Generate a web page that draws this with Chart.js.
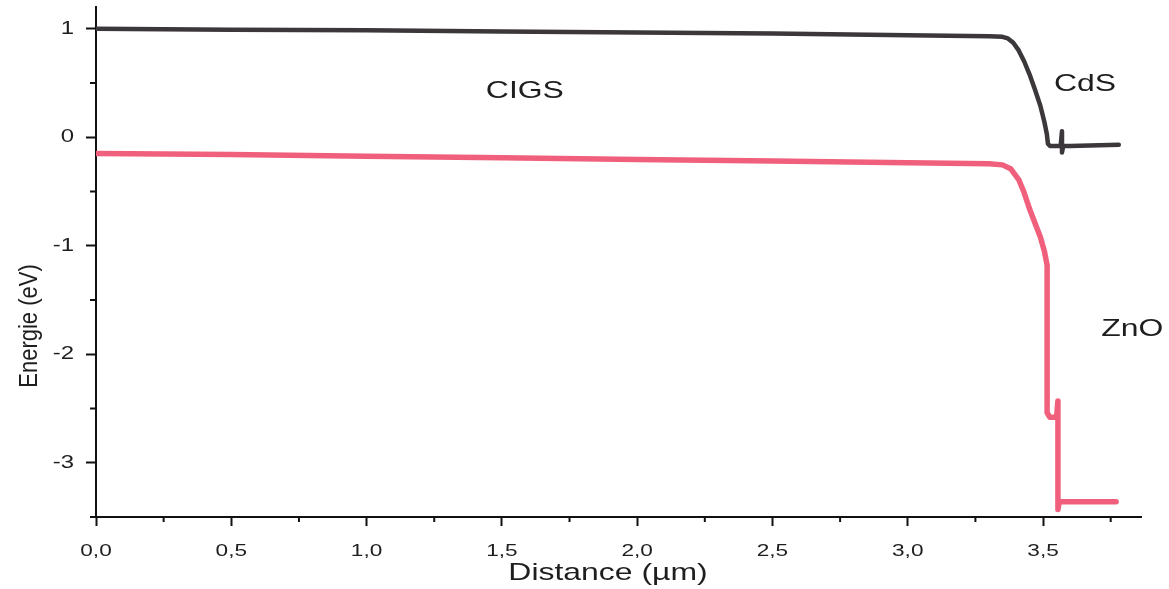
<!DOCTYPE html>
<html>
<head>
<meta charset="utf-8">
<script src="https://cdn.jsdelivr.net/npm/chart.js@4.4.1/dist/chart.umd.min.js"></script>
<style>
  body { margin: 0; background: #fff; }
  #wrap { width: 1169px; height: 589px; }
</style>
</head>
<body>
<div id="wrap"><canvas id="bandChart" width="1169" height="589"></canvas></div>
<script>
// conduction band (black curve)
const cbX = [0, 0.5, 1.0, 1.5, 2.0, 2.5, 3.0, 3.3, 3.35, 3.37, 3.39, 3.41, 3.43, 3.45, 3.47, 3.49, 3.505, 3.514, 3.518, 3.525, 3.565, 3.57, 3.57, 3.575, 3.6, 3.78]
const cbY = [1.0, 0.99, 0.985, 0.975, 0.965, 0.955, 0.94, 0.93, 0.925, 0.91, 0.87, 0.8, 0.7, 0.58, 0.44, 0.29, 0.14, 0.03, -0.06, -0.08, -0.08, 0.055, -0.14, -0.08, -0.08, -0.07]

// valence band (red curve)
const vbX = [0, 0.5, 1.0, 1.5, 2.0, 2.5, 3.0, 3.3, 3.35, 3.38, 3.41, 3.43, 3.45, 3.47, 3.49, 3.505, 3.515, 3.515, 3.525, 3.55, 3.555, 3.555, 3.56, 3.6, 3.77]
const vbY = [-0.15, -0.16, -0.175, -0.19, -0.205, -0.22, -0.235, -0.245, -0.255, -0.29, -0.39, -0.51, -0.66, -0.79, -0.92, -1.05, -1.18, -2.54, -2.58, -2.58, -2.43, -3.43, -3.36, -3.36, -3.36]

const xMinor = [0.25, 0.75, 1.25, 1.75, 2.25, 2.75, 3.25, 3.75]
const yMinor = [-3.5, -2.5, -1.5, -0.5, 0.5]

const regionNames = ['CIGS', 'CdS', 'ZnO']
const regionX = [1.585, 3.655, 3.83]
const regionY = [0.42, 0.49, -1.77]

const toPoints = (xs, ys) => xs.map((v, i) => ({x: v, y: ys[i]}))
const FONT = "'Liberation Sans', Arial, sans-serif"
const STRETCH = 1.33   // the scanned text is wider than normal Arial

function wideText(ctx, text, x, y, size, align) {
    ctx.save()
    ctx.font = size + 'px ' + FONT
    ctx.textAlign = align
    ctx.textBaseline = 'middle'
    ctx.translate(x, y)
    ctx.scale(STRETCH, 1)
    ctx.fillText(text, 0, 0)
    ctx.restore()
}

const extras = {
    id: 'extras',
    afterDraw(chart) {
        const ctx = chart.ctx
        const x = chart.scales.x
        const y = chart.scales.y
        const area = chart.chartArea
        ctx.save()
        ctx.strokeStyle = '#111'
        ctx.lineWidth = 2
        ctx.beginPath()
        xMinor.forEach(v => {
            const px = x.getPixelForValue(v)
            ctx.moveTo(px, area.bottom)
            ctx.lineTo(px, area.bottom + 5)
        })
        yMinor.forEach(v => {
            const py = y.getPixelForValue(v)
            ctx.moveTo(area.left, py)
            ctx.lineTo(area.left - 6, py)
        })
        ctx.stroke()

        ctx.fillStyle = '#1e1e1e'
        // tick labels
        x.ticks.forEach(t => {
            wideText(ctx, t.value.toFixed(1).replace('.', ','), x.getPixelForValue(t.value), area.bottom + 34, 17, 'center')
        })
        y.ticks.forEach(t => {
            wideText(ctx, String(t.value), area.left - 22, y.getPixelForValue(t.value), 18, 'right')
        })

        // layer names
        regionNames.forEach((t, i) => {
            wideText(ctx, t, x.getPixelForValue(regionX[i]), y.getPixelForValue(regionY[i]), 24, 'center')
        })

        // axis titles
        wideText(ctx, 'Distance (µm)', 608, 573, 24, 'center')
        ctx.font = '22px ' + FONT
        ctx.textAlign = 'center'
        ctx.textBaseline = 'middle'
        ctx.translate(30, 326)
        ctx.rotate(-Math.PI / 2)
        ctx.scale(1, 1.2)
        ctx.fillText('Energie (eV)', 0, 0)
        ctx.restore()
    }
}

var ctx_band = document.getElementById('bandChart').getContext('2d')
var bandChart = new Chart(ctx_band, {
    type: 'line',
    data: {
        datasets: [{
            label: 'Ec',
            data: toPoints(cbX, cbY),
            borderColor: '#3b373b',
            borderWidth: 4.5,
            pointRadius: 0,
            tension: 0,
            borderCapStyle: 'round',
            borderJoinStyle: 'round'
        }, {
            label: 'Ev',
            data: toPoints(vbX, vbY),
            borderColor: '#f0607c',
            borderWidth: 5.5,
            pointRadius: 0,
            tension: 0,
            borderCapStyle: 'round',
            borderJoinStyle: 'round'
        }]
    },
    options: {
        responsive: false,
        animation: false,
        layout: { padding: { top: 7, right: 28, left: 0, bottom: 0 } },
        plugins: {
            legend: { display: false },
            tooltip: { enabled: false }
        },
        scales: {
            x: {
                type: 'linear',
                min: 0,
                max: 3.862,
                afterFit: s => { s.height = 72; s.paddingLeft = 0; s.paddingRight = 0 },
                border: { color: '#111', width: 2 },
                grid: { drawOnChartArea: false, tickLength: 9, tickWidth: 2, tickColor: '#111' },
                ticks: { stepSize: 0.5, includeBounds: false, display: false }
            },
            y: {
                min: -3.5,
                max: 1.2,
                afterFit: s => { s.width = 96; s.paddingTop = 0; s.paddingBottom = 0 },
                border: { color: '#111', width: 2 },
                grid: { drawOnChartArea: false, tickLength: 10, tickWidth: 2, tickColor: '#111' },
                ticks: { stepSize: 1, includeBounds: false, display: false }
            }
        }
    },
    plugins: [extras]
})
</script>
</body>
</html>
